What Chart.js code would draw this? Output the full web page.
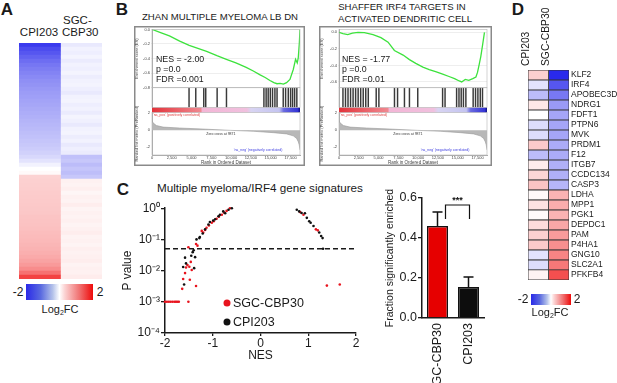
<!DOCTYPE html>
<html>
<head>
<meta charset="utf-8">
<script src="https://cdn.jsdelivr.net/npm/chart.js@4.4.1/dist/chart.umd.min.js"></script>
<style>
  body { margin: 0; width: 617px; height: 383px; overflow: hidden; position: relative; background: #fff;
         font-family: Arial, "Liberation Sans", Helvetica, sans-serif; color: #1a1a1a; }
  canvas, .t, .cb { position: absolute; }
  .t { white-space: nowrap; line-height: 1; }
  .c { transform: translate(-50%, -50%); }
  .l { transform: translateY(-50%); }
  .p { font-weight: bold; font-size: 17px; }
  .cb { background: linear-gradient(to right, #2a2ae8 0%, #5a6ae0 22%, #b4c2ea 40%, #fff 50%, #fbd2d2 58%, #f07070 80%, #ee0a0a 100%); }
  sub { font-size: 7px; vertical-align: -2px; }
  .dot { position: absolute; width: 7px; height: 7px; border-radius: 50%; transform: translate(-50%, -50%); }
</style>
</head>
<body>
<!-- panel letters -->
<div class="t c p" style="left:7px;top:9px">A</div>
<div class="t c p" style="left:122px;top:9px">B</div>
<div class="t c p" style="left:123px;top:189px">C</div>
<div class="t c p" style="left:518px;top:9px">D</div>

<!-- A -->
<div class="t c" style="left:39px;top:33px;font-size:11.5px">CPI203</div>
<div class="t l" style="left:63px;top:21px;font-size:11.5px">SGC-</div>
<div class="t l" style="left:62px;top:33px;font-size:11.5px">CBP30</div>
<canvas id="heatA" width="83" height="236" style="left:19px;top:43px"></canvas>
<div class="cb" style="left:26px;top:284px;width:67px;height:16px"></div>
<div class="t c" style="left:18px;top:292px;font-size:12px">-2</div>
<div class="t c" style="left:100px;top:292px;font-size:12px">2</div>
<div class="t c" style="left:60px;top:310px;font-size:11px">Log<sub>2</sub>FC</div>

<!-- B -->
<div class="t c" style="left:220px;top:17px;font-size:9.6px">ZHAN MULTIPLE MYELOMA LB DN</div>
<div class="t c" style="left:402px;top:7px;font-size:9.6px">SHAFFER IRF4 TARGETS IN</div>
<div class="t c" style="left:405px;top:19px;font-size:9.6px">ACTIVATED DENDRITIC CELL</div>
<canvas id="gsea1" width="171" height="140" style="left:134px;top:26px"></canvas>
<canvas id="gsea2" width="173" height="140" style="left:319px;top:26px"></canvas>
<div class="t l" style="left:156px;top:59px;font-size:8.8px">NES = -2.00</div>
<div class="t l" style="left:156px;top:69px;font-size:8.8px">p =0.0</div>
<div class="t l" style="left:156px;top:79px;font-size:8.8px">FDR =0.001</div>
<div class="t l" style="left:342px;top:59px;font-size:8.8px">NES = -1.77</div>
<div class="t l" style="left:342px;top:69px;font-size:8.8px">p =0.0</div>
<div class="t l" style="left:342px;top:79px;font-size:8.8px">FDR =0.01</div>

<!-- C -->
<div class="t c" style="left:260px;top:188px;font-size:11.7px">Multiple myeloma/IRF4 gene signatures</div>
<canvas id="scatterC" width="243" height="165" style="left:117px;top:200px"></canvas>
<div class="dot" style="left:227px;top:303px;background:#e8141e"></div>
<div class="t l" style="left:233px;top:303px;font-size:12.5px">SGC-CBP30</div>
<div class="dot" style="left:227px;top:322px;background:#111"></div>
<div class="t l" style="left:233px;top:322px;font-size:12.5px">CPI203</div>
<canvas id="barC" width="110" height="203" style="left:380px;top:180px"></canvas>

<!-- D -->
<canvas id="heatD" width="102" height="287" style="left:515px;top:0px"></canvas>
<div class="cb" style="left:531px;top:294px;width:40px;height:11px"></div>
<div class="t c" style="left:523px;top:299px;font-size:12px">-2</div>
<div class="t c" style="left:577px;top:299px;font-size:12px">2</div>
<div class="t c" style="left:550px;top:313px;font-size:11px">Log<sub>2</sub>FC</div>

<script>
// ---- A: genome-wide log2FC heatmap (rows sorted by CPI203) ----
const cpiAll = [-1.75, -1.6, -1.5, -1.4, -1.3, -1.22, -1.16, -1.1, -1.05, -1.0,
  -0.96, -0.92, -0.88, -0.85, -0.82, -0.79, -0.76, -0.73, -0.7, -0.67,
  -0.64, -0.61, -0.58, -0.55, -0.52, -0.49, -0.45, -0.41, -0.35, -0.25,
  -0.12, 0.0, 0.05,
  0.38, 0.4, 0.41, 0.42, 0.43, 0.44, 0.45, 0.46, 0.47, 0.48,
  0.5, 0.51, 0.52, 0.54, 0.56, 0.58, 0.6, 0.62, 0.65, 0.68,
  0.72, 0.78, 0.86, 0.98, 1.2, 1.6];
const sgcAll = [-0.2, -0.12, -0.15, -0.1, -0.18, -0.12, -0.14, -0.1, -0.16, -0.12,
  -0.1, -0.14, -0.2, -0.12, -0.1, -0.15, -0.12, -0.18, -0.1, -0.13,
  -0.2, -0.12, -0.1, -0.16, -0.12, -0.2, -0.14, -0.18,
  -0.55, -0.5, -0.6, -0.52, -0.58, -0.5,
  0.12, 0.1, 0.14, 0.08, 0.12, 0.1, 0.15, 0.09, 0.12, 0.1,
  0.13, 0.09, 0.12, 0.15, 0.1, 0.12, 0.09, 0.14, 0.11, 0.13,
  0.15, 0.1, 0.13, 0.12, 0.16];
const heatColumns = ['CPI203', 'SGC-CBP30'];

// ---- B: GSEA running enrichment scores ----
const rankTicks = [0, 2500, 5000, 7500, 10000, 12500, 15000, 17500];
const zhanRank = [0, 1000, 2200, 3500, 4700, 5800, 6900, 8200, 9400, 10600, 11900, 12800, 13600, 14300,
  14900, 15400, 15800, 16200, 16600, 17000, 17430, 17850, 18140, 18350, 18480, 18620, 18700];
const zhanES = [0, -0.04, -0.09, -0.16, -0.22, -0.26, -0.30, -0.36, -0.41, -0.46, -0.52, -0.57, -0.62, -0.66,
  -0.70, -0.73, -0.745, -0.74, -0.75, -0.73, -0.685, -0.55, -0.41, -0.46, -0.39, -0.18, 0];
const zhanHits = [4680, 5530, 6540, 6790, 8230, 9410, 14140, 14420, 14680, 14950, 15230, 15530,
  15800, 16580, 16880, 17220, 17510, 17760, 18020, 18300];
const shafRank = [0, 500, 1100, 1700, 2400, 3200, 4300, 5300, 6200, 7000, 8100, 8900, 9700, 10600, 11400,
  12300, 13100, 13900, 14600, 15200, 15500, 15950, 16400, 16900, 17300, 17500, 17710, 17920, 18130, 18380];
const shafES = [0, -0.015, -0.027, -0.01, 0, -0.005, -0.027, -0.065, -0.12, -0.22, -0.275, -0.33, -0.375, -0.42, -0.45,
  -0.477, -0.505, -0.534, -0.56, -0.588, -0.6, -0.57, -0.58, -0.56, -0.54, -0.485, -0.39, -0.29, -0.16, 0];
const shafHits = [500, 820, 1140, 1460, 1780, 2100, 2420, 2740, 3060, 3380, 3700, 4700, 5040,
  7010, 7400, 8270, 8900, 9950, 13090, 13400, 14860, 15160, 15440, 15720, 16030,
  16950, 17250, 17550, 17850, 18130];
// ranked list metric (same pre-ranked list for both)
const metricRank = [0, 130, 550, 1400, 3500, 6450, 9870, 12800, 15300, 17000, 17850, 18270, 18480, 18600, 18700];
const metricVal = [1.14, 0.88, 0.57, 0.38, 0.27, 0.15, 0, -0.11, -0.27, -0.42, -0.65, -0.95, -1.33, -1.7, -2.3];
const metricTicks = [2, 1, 0, -1, -2];

// ---- C: NES vs p value of myeloma/IRF4 signatures ----
const sgcNES = [-2.0, -1.96, -1.92, -1.88, -1.84, -1.8, -1.77, -1.74, -1.71, -1.51,
  -1.64, -1.62, -1.58, -1.56, -1.53, -1.49, -1.46, -1.44, -1.48, -1.35,
  -1.51, -1.35, -1.32, -1.23, -1.2, -1.16, -1.13, -1.08, -1.02, -0.98, -0.92, -0.87, -0.81, -0.76, -0.71, -0.64,
  0.83, 0.9, 1.16, 1.2, 1.39, 1.66];
const sgcP = [0.001, 0.001, 0.001, 0.001, 0.001, 0.001, 0.001, 0.001, 0.001, 0.001,
  0.0026, 0.0054, 0.0083, 0.0126, 0.015, 0.0133, 0.019, 0.0105, 0.0051, 0.0032,
  0.056, 0.071, 0.063, 0.187, 0.166, 0.2, 0.237, 0.28, 0.34, 0.38, 0.46, 0.53, 0.62, 0.72, 0.82, 1.0,
  0.75, 0.62, 0.21, 0.195, 0.0033, 0.0036];
const cpiNES = [-1.62, -1.6, -1.58, -1.56, -1.45, -1.42, -1.4, -1.39, -1.37, -1.34, -1.28, -1.27, -1.21, -1.16,
  -1.09, -1.06, -0.99, -0.95, -0.88, -0.85, -0.78, -0.74, -0.67, -0.6,
  0.76, 0.81, 0.86, 0.93, 0.97, 1.02, 1.05, 1.11, 1.23, 1.27, 1.3, 1.31];
const cpiP = [0.013, 0.0036, 0.026, 0.017, 0.03, 0.039, 0.045, 0.012, 0.027, 0.1, 0.11, 0.12, 0.155, 0.21,
  0.3, 0.36, 0.4, 0.44, 0.55, 0.62, 0.79, 0.69, 0.89, 1.0,
  0.89, 0.79, 0.7, 0.69, 0.49, 0.38, 0.34, 0.27, 0.166, 0.129, 0.11, 0.05];
const nesTicks = [-2, -1, 0, 1, 2];
const pTicks = [1, 0.1, 0.01, 0.001, 0.0001];
const cutoffP = 0.05;
const fracGroups = ['SGC-CBP30', 'CPI203'];
const fracMean = [0.46, 0.155];
const fracErr = [0.07, 0.05];
const fracTicks = [0, 0.2, 0.4, 0.6];

// ---- D: selected genes ----
const genes = ['KLF2', 'IRF4', 'APOBEC3D', 'NDRG1', 'FDFT1', 'PTPN6', 'MVK', 'PRDM1', 'F12', 'ITGB7',
  'CCDC134', 'CASP3', 'LDHA', 'MPP1', 'PGK1', 'DEPDC1', 'PAM', 'P4HA1', 'GNG10', 'SLC2A1', 'PFKFB4'];
const cpiGene = [0.4, -0.25, -0.6, 0.2, 0, -0.3, -0.3, 0.45, -0.6, 0.15,
  0.35, 0.5, 0.05, 0.25, 0.03, 0.3, 0.4, 0.45, -0.25, -0.3, 0.1];
const sgcGene = [-1.9, -1.5, -1.2, -0.9, -0.8, -0.8, -0.8, -0.75, -0.75, -0.7,
  -0.7, -0.65, 0.65, 0.7, 0.65, 0.75, 0.85, 0.95, 1.05, 1.15, 1.5];

Chart.defaults.font.family = 'Arial, "Liberation Sans", Helvetica, sans-serif';
Chart.defaults.color = '#1a1a1a';
Chart.defaults.animation = false;
Chart.defaults.responsive = false;
Chart.defaults.devicePixelRatio = 1;
Chart.defaults.plugins.legend.display = false;
Chart.defaults.plugins.tooltip.enabled = false;

// blue - white - red, clipped at +-2
function heat(v) {
  const t = Math.max(-1, Math.min(1, v / 2));
  const end = t < 0 ? [30, 30, 235] : [240, 20, 20];
  const k = Math.abs(t);
  const c = end.map(e => Math.round(255 + (e - 255) * k));
  return `rgb(${c[0]},${c[1]},${c[2]})`;
}
const fixTicks = list => s => { s.ticks = list.map(v => ({ value: v })); };
const axisInk = { color: '#1a1a1a', width: 1.5 };

// A
new Chart(document.getElementById('heatA'), {
  type: 'bar',
  data: {
    labels: cpiAll.map((_, i) => i),
    datasets: [
      { data: cpiAll.map(() => 1), backgroundColor: cpiAll.map(heat) },
      { data: sgcAll.map(() => 1), backgroundColor: sgcAll.map(heat) }
    ]
  },
  options: {
    indexAxis: 'y',
    layout: { padding: 0 },
    datasets: { bar: { barPercentage: 1, categoryPercentage: 1, borderWidth: 0 } },
    scales: {
      x: { stacked: true, min: 0, max: 2, display: false },
      y: { stacked: true, display: false }
    }
  }
});

// B
const rankBarStops = [[0, '#e3323a'], [0.33, '#f08890'], [0.34, '#f3b6d6'], [0.64, '#f0c0de'],
  [0.67, '#d8d4f2'], [0.86, '#c4c4f0'], [0.89, '#6a6ae0'], [0.985, '#3434d6'], [1, '#101080']];
const gseaDeco = {
  id: 'gseaDeco',
  beforeDraw(chart) {
    const { ctx, width, height } = chart;
    ctx.save();
    ctx.strokeStyle = '#8a8a8a';
    ctx.lineWidth = 1.5;
    ctx.strokeRect(0.75, 0.75, width - 1.5, height - 1.5);
    ctx.restore();
  },
  afterDatasetsDraw(chart) {
    const { ctx, chartArea: a, scales } = chart;
    const bar = scales.yBar, met = scales.yMet, x = scales.x;
    ctx.save();
    const g = ctx.createLinearGradient(a.left, 0, a.right, 0);
    rankBarStops.forEach(([p, c]) => g.addColorStop(p, c));
    ctx.fillStyle = g;
    ctx.fillRect(a.left, bar.top, a.right - a.left, bar.bottom - bar.top);
    ctx.strokeStyle = '#b4b4b4';
    ctx.lineWidth = 0.6;
    ['yES', 'yHit', 'yMet'].forEach(id =>
      ctx.strokeRect(a.left, scales[id].top, a.right - a.left, scales[id].bottom - scales[id].top));
    ctx.font = '3.5px Arial';
    ctx.textBaseline = 'middle';
    ctx.fillStyle = '#e04040';
    ctx.fillText("'na_pos' (positively correlated)", a.left + 1, bar.bottom + 2.5);
    ctx.textAlign = 'center';
    ctx.fillStyle = '#333';
    ctx.fillText('Zero cross at 9871', x.getPixelForValue(8700), met.getPixelForValue(-0.4));
    ctx.fillStyle = '#4040e0';
    ctx.fillText("'na_neg' (negatively correlated)", x.getPixelForValue(13400), met.getPixelForValue(-2.35));
    ctx.restore();
  }
};

function gsea(id, esRank, esVal, esMin, esMax, esTicks, hits, yWidth) {
  const small = { size: 4 };
  const fitY = s => { s.width = yWidth; };
  new Chart(document.getElementById(id), {
    type: 'line',
    data: {
      datasets: [
        { data: esRank.map((r, i) => ({ x: r, y: esVal[i] })), yAxisID: 'yES',
          borderColor: '#3de23d', borderWidth: 1.3, pointRadius: 0, tension: 0 },
        { type: 'bar', data: hits.map(r => ({ x: r, y: 1 })), yAxisID: 'yHit',
          backgroundColor: '#3a3a3a', barThickness: 0.8 },
        { data: metricRank.map((r, i) => ({ x: r, y: metricVal[i] })), yAxisID: 'yMet',
          borderColor: '#9a9a9a', borderWidth: 0.6, backgroundColor: '#b8b8b8', fill: 'origin', pointRadius: 0 }
      ]
    },
    options: {
      layout: { padding: { top: 2, right: 5, bottom: 1, left: 0 } },
      scales: {
        x: { type: 'linear', min: 0, max: 18700, offset: false, afterBuildTicks: fixTicks(rankTicks),
             afterFit: s => { s.height = 10; },
             ticks: { font: small, maxRotation: 0, autoSkip: false, padding: 0, color: '#444',
                      callback: v => v.toLocaleString('en-US') },
             grid: { display: false, drawTicks: false }, border: { color: '#aaa' },
             title: { display: true, text: 'Rank in Ordered Dataset', font: { size: 4.5 }, padding: 0, color: '#444' } },
        yMet: { stack: 'g', stackWeight: 43, min: -2.9, max: 2.1, afterBuildTicks: fixTicks(metricTicks), afterFit: fitY,
                ticks: { font: small, padding: 1, color: '#444' }, grid: { display: false, tickLength: 1 },
                border: { color: '#aaa' },
                title: { display: true, text: 'Ranked list metric (PreRanked)', font: small, padding: 0, color: '#444' } },
        yBar: { stack: 'g', stackWeight: 5, min: 0, max: 1, afterFit: fitY, ticks: { display: false },
                grid: { display: false }, border: { display: false } },
        yHit: { stack: 'g', stackWeight: 20, min: 0, max: 1, afterFit: fitY, ticks: { display: false },
                grid: { display: false }, border: { color: '#aaa' } },
        yES: { stack: 'g', stackWeight: 59, min: esMin, max: esMax, afterBuildTicks: fixTicks(esTicks), afterFit: fitY,
               ticks: { font: small, padding: 1, color: '#444', callback: v => v.toFixed(1) },
               grid: { color: '#e2e2e2', lineWidth: 0.6, tickLength: 1 }, border: { color: '#aaa' },
               title: { display: true, text: 'Enrichment score (ES)', font: small, padding: 0, color: '#444' } }
      }
    },
    plugins: [gseaDeco]
  });
}
gsea('gsea1', zhanRank, zhanES, -0.8, 0, [0, -0.1, -0.2, -0.3, -0.4, -0.5, -0.6, -0.7, -0.8], zhanHits, 18);
gsea('gsea2', shafRank, shafES, -0.67, 0.035, [0, -0.1, -0.2, -0.3, -0.4, -0.5, -0.6], shafHits, 20);

// C scatter
const supDigits = { '-': '\u207B', '0': '\u2070', '1': '\u00B9', '2': '\u00B2', '3': '\u00B3', '4': '\u2074' };
const pLabel = v => '10' + String(Math.round(Math.log10(v))).split('').map(ch => supDigits[ch]).join('');
new Chart(document.getElementById('scatterC'), {
  type: 'scatter',
  data: {
    datasets: [
      { data: cpiNES.map((x, i) => ({ x, y: cpiP[i] })), backgroundColor: '#111', pointRadius: 1.3, borderWidth: 0, clip: 4 },
      { data: sgcNES.map((x, i) => ({ x, y: sgcP[i] })), backgroundColor: '#e8141e', pointRadius: 1.3, borderWidth: 0, clip: 4 },
      { type: 'line', data: [{ x: nesTicks[0], y: cutoffP }, { x: nesTicks[nesTicks.length - 1], y: cutoffP }],
        borderColor: '#1a1a1a', borderWidth: 1.4, borderDash: [5, 3], pointRadius: 0 }
    ]
  },
  options: {
    layout: { padding: { top: 5, right: 4, bottom: 2, left: 0 } },
    scales: {
      x: { type: 'linear', min: -2, max: 2, afterBuildTicks: fixTicks(nesTicks), afterFit: s => { s.height = 30; },
           ticks: { font: { size: 12 }, padding: 0 },
           grid: { drawOnChartArea: false, tickLength: 3, color: '#1a1a1a', lineWidth: 1.3 }, border: axisInk,
           title: { display: true, text: 'NES', font: { size: 12 }, padding: 0 } },
      y: { type: 'logarithmic', min: 0.0001, max: 1, afterBuildTicks: fixTicks(pTicks), afterFit: s => { s.width = 48; },
           ticks: { font: { size: 12 }, padding: 1, callback: pLabel },
           grid: { drawOnChartArea: false, tickLength: 4, color: '#1a1a1a', lineWidth: 1.3 }, border: axisInk,
           title: { display: true, text: 'P value', font: { size: 12 }, padding: { top: 3, bottom: 0 } } }
    }
  }
});

// C bars with error bars and significance bracket
const errorBars = {
  id: 'errorBars',
  afterDatasetsDraw(chart) {
    const { ctx } = chart;
    const y = chart.scales.y;
    const bars = chart.getDatasetMeta(0).data;
    ctx.save();
    ctx.strokeStyle = '#111';
    ctx.lineWidth = 1.5;
    bars.forEach((b, i) => {
      const top = y.getPixelForValue(fracMean[i] + fracErr[i]);
      ctx.beginPath();
      ctx.moveTo(b.x, b.y); ctx.lineTo(b.x, top);
      ctx.moveTo(b.x - 5, top); ctx.lineTo(b.x + 5, top);
      ctx.stroke();
    });
    const peak = Math.max(...fracMean.map((m, i) => m + fracErr[i]));
    const yTop = y.getPixelForValue(peak + 0.035);
    const x0 = bars[0].x + 8, x1 = bars[1].x + 1;
    ctx.lineWidth = 1.2;
    ctx.beginPath();
    ctx.moveTo(x0, yTop + 14); ctx.lineTo(x0, yTop); ctx.lineTo(x1, yTop); ctx.lineTo(x1, yTop + 14);
    ctx.stroke();
    ctx.fillStyle = '#111';
    ctx.font = 'bold 9px Arial';
    ctx.textAlign = 'center';
    ctx.fillText('***', (x0 + x1) / 2, yTop - 2);
    ctx.restore();
  }
};
new Chart(document.getElementById('barC'), {
  type: 'bar',
  data: {
    labels: fracGroups,
    datasets: [{ data: fracMean, backgroundColor: ['#e60000', '#0d0d0d'], borderColor: '#111', borderWidth: 1.5,
                 barPercentage: 0.68, categoryPercentage: 1 }]
  },
  options: {
    layout: { padding: { top: 18, right: 6, bottom: 0, left: 0 } },
    scales: {
      x: { afterFit: s => { s.height = 65; },
           ticks: { font: { size: 12.5 }, minRotation: 90, maxRotation: 90, padding: 5 },
           grid: { display: false, drawTicks: false }, border: axisInk },
      y: { min: 0, max: 0.6, afterBuildTicks: fixTicks(fracTicks), afterFit: s => { s.width = 42; },
           ticks: { font: { size: 12.5 }, padding: 1, callback: v => v.toFixed(1) },
           grid: { drawOnChartArea: false, tickLength: 4, color: '#1a1a1a', lineWidth: 1.3 }, border: axisInk,
           title: { display: true, text: 'Fraction significantly enriched', font: { size: 10.5 }, padding: { top: 4, bottom: 0 } } }
    }
  },
  plugins: [errorBars]
});

// D
new Chart(document.getElementById('heatD'), {
  type: 'bar',
  data: {
    labels: genes,
    datasets: [
      { data: genes.map(() => 1), backgroundColor: cpiGene.map(heat) },
      { data: genes.map(() => 1), backgroundColor: sgcGene.map(heat) }
    ]
  },
  options: {
    indexAxis: 'y',
    layout: { padding: { top: 2, bottom: 2, left: 13, right: 0 } },
    datasets: { bar: { barPercentage: 1, categoryPercentage: 1, borderWidth: 0.8, borderColor: '#333', borderSkipped: false } },
    scales: {
      x: { stacked: true, position: 'top', min: 0, max: 2, afterBuildTicks: fixTicks([0.5, 1.5]),
           afterFit: s => { s.height = 68; },
           ticks: { callback: v => heatColumns[Math.floor(v)], minRotation: 90, maxRotation: 90,
                    font: { size: 10.3 }, padding: 4, autoSkip: false },
           grid: { display: false, drawTicks: false }, border: { display: false } },
      y: { stacked: true, position: 'right', afterFit: s => { s.width = 48; },
           ticks: { font: { size: 8.5 }, padding: 2, autoSkip: false },
           grid: { display: false, drawTicks: false }, border: { display: false } }
    }
  }
});
</script>
</body>
</html>
